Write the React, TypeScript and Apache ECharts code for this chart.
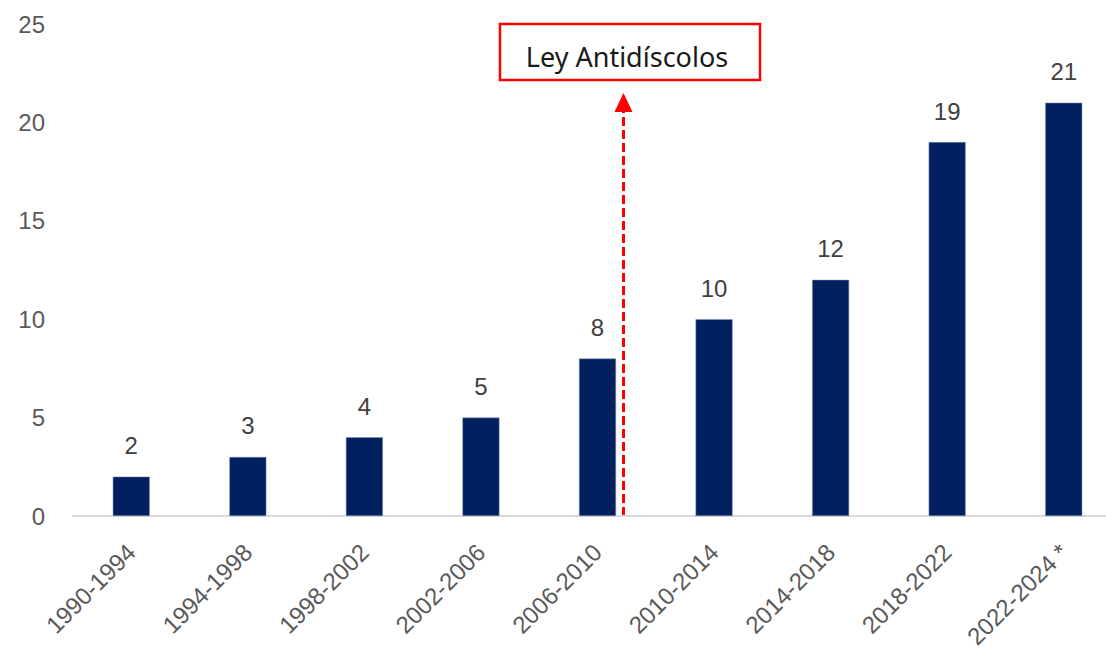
import React, { useEffect, useRef } from "react";
import * as echarts from "echarts";

const categories = ["1990-1994", "1994-1998", "1998-2002", "2002-2006", "2006-2010", "2010-2014", "2014-2018", "2018-2022", "2022-2024 *"];
const values = [2, 3, 4, 5, 8, 10, 12, 19, 21];
const yTicks = { min: 0, max: 25, interval: 5 };
const annotationText = "Ley Antidíscolos";
const annotationAfterIndex = 4;

export default function App() {
  const ref = useRef<HTMLDivElement>(null);
  useEffect(() => {
    if (!ref.current) return;
    const chart = echarts.init(ref.current, undefined, { renderer: "svg" });
    chart.setOption({
      animation: false,
      grid: { left: 73, right: 0, top: 24, bottom: 140, containLabel: false, outerBoundsMode: "none" },
      xAxis: {
        type: "category",
        data: categories,
        axisLine: { show: true, lineStyle: { color: "#d9d9d9", width: 2 } },
        axisTick: { show: false },
        axisLabel: { rotate: 45, color: "#595959", fontSize: 24, fontFamily: "Liberation Sans, Arial", margin: 32, interval: 0 },
      },
      yAxis: {
        type: "value",
        min: yTicks.min,
        max: yTicks.max,
        interval: yTicks.interval,
        axisLine: { show: false },
        axisTick: { show: false },
        splitLine: { show: false },
        axisLabel: { color: "#595959", fontSize: 24, fontFamily: "Liberation Sans, Arial", margin: 28 },
      },
      series: [
        {
          type: "bar",
          data: values,
          barWidth: 37,
          itemStyle: { color: "#002060", borderColor: "#8497b0", borderWidth: 0.5 },
          label: { show: true, position: "top", distance: 19, color: "#404040", fontSize: 24, fontFamily: "Liberation Sans, Arial" },
        },
      ],
    });
    const x4 = chart.convertToPixel({ xAxisIndex: 0 }, categories[annotationAfterIndex]) as number;
    const x5 = chart.convertToPixel({ xAxisIndex: 0 }, categories[annotationAfterIndex + 1]) as number;
    const lx = Math.round(x4 + (x5 - x4) * 0.215) + 0.5;
    const y0 = chart.convertToPixel({ yAxisIndex: 0 }, 0) as number;
    chart.setOption({
      graphic: [
        {
          type: "line",
          shape: { x1: lx, y1: y0, x2: lx, y2: 110 },
          style: { stroke: "#ff0000", lineWidth: 3, lineDash: [9, 4] },
        },
        {
          type: "polygon",
          shape: { points: [[lx, 93], [lx - 9, 112], [lx + 9, 112]] },
          style: { fill: "#ff0000" },
        },
        {
          type: "rect",
          shape: { x: 500, y: 24, width: 260, height: 56 },
          style: { fill: "#ffffff", stroke: "#ff0000", lineWidth: 2.5 },
        },
        {
          type: "text",
          x: 627,
          y: 56,
          style: { text: annotationText, fill: "#1a1a1a", fontSize: 27, fontFamily: "Noto Sans", align: "center", verticalAlign: "middle" },
        },
      ],
    });
    return () => chart.dispose();
  }, []);
  return <div ref={ref} style={{ position: "fixed", left: 0, top: 0, width: 1122, height: 656, background: "#fff" }} />;
}
